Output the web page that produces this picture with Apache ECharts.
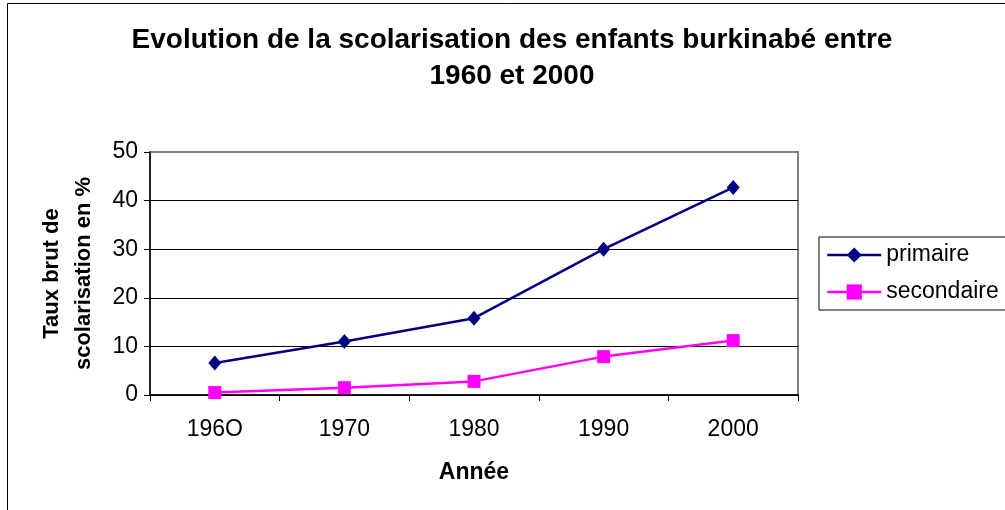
<!DOCTYPE html>
<html>
<head>
<meta charset="utf-8">
<script src="https://cdn.jsdelivr.net/npm/echarts@6/dist/echarts.min.js"></script>
<style>
  html, body { margin: 0; padding: 0; background: #fff; }
  #chart { width: 1005px; height: 510px; }
</style>
</head>
<body>
<div id="chart"></div>
<script>
// data
const years = ['196O', '1970', '1980', '1990', '2000']
const primaire = [6.6, 11.0, 15.8, 30.0, 42.7]
const secondaire = [0.5, 1.5, 2.8, 7.9, 11.2]
const yTicks = [0, 10, 20, 30, 40, 50]

const font = 'Arial, "Liberation Sans", sans-serif'

const chart = echarts.init(document.getElementById('chart'))

const option = {
  backgroundColor: '#fff',
  animation: false,
  textStyle: { fontFamily: font, color: '#000' },
  title: {
    text: 'Evolution de la scolarisation des enfants burkinabé entre\n1960 et 2000',
    left: 512,
    textAlign: 'center',
    top: 22,
    padding: 0,
    textStyle: {
      fontFamily: font,
      fontSize: 28,
      fontWeight: 'bold',
      color: '#000',
      lineHeight: 36
    }
  },
  graphic: [
    {
      type: 'rect',
      silent: true,
      shape: { x: 7.5, y: 3.5, width: 1100, height: 600 },
      style: { fill: 'none', stroke: '#000', lineWidth: 1 }
    }
  ],
  legend: {
    orient: 'vertical',
    left: 819,
    top: 237,
    padding: [6, 8, 6, 7],
    itemGap: 13,
    itemWidth: 54,
    itemHeight: 19,
    lineStyle: { width: 2.5 },
    borderColor: '#000',
    borderWidth: 1,
    textStyle: { fontFamily: font, fontSize: 23, color: '#000', lineHeight: 24 },
    data: ['primaire', 'secondaire']
  },
  grid: {
    left: 150,
    right: 207,
    top: 152,
    bottom: 115,
    show: true,
    borderColor: '#808080',
    borderWidth: 2,
    backgroundColor: '#fff'
  },
  xAxis: {
    type: 'category',
    data: years,
    boundaryGap: true,
    name: 'Année',
    nameLocation: 'middle',
    nameGap: 66,
    nameTextStyle: { fontFamily: font, fontSize: 23, fontWeight: 'bold', color: '#000' },
    axisLine: { lineStyle: { color: '#000', width: 1.5 } },
    axisTick: { show: true, length: 6, lineStyle: { color: '#000' } },
    axisLabel: { fontFamily: font, fontSize: 23, color: '#000', margin: 23 }
  },
  yAxis: {
    type: 'value',
    min: 0,
    max: 50,
    interval: 10,
    name: 'Taux brut de\nscolarisation en %',
    nameLocation: 'middle',
    nameGap: 50,
    nameRotate: 90,
    nameTextStyle: { fontFamily: font, fontSize: 22, fontWeight: 'bold', color: '#000', lineHeight: 32 },
    axisLine: { show: true, lineStyle: { color: '#000', width: 1.5 } },
    axisTick: { show: true, length: 6, lineStyle: { color: '#000' } },
    axisLabel: {
      fontFamily: font, fontSize: 23, color: '#000', margin: 12,
      formatter: (v) => yTicks.includes(v) ? String(v) : ''
    },
    splitLine: {
      show: true,
      lineStyle: { color: ['#000', '#000', '#000', '#000', '#000', '#808080'], width: 1 }
    }
  },
  series: [
    {
      name: 'primaire',
      type: 'line',
      data: primaire,
      symbol: 'diamond',
      symbolSize: [13, 15],
      lineStyle: { color: '#000080', width: 2.5 },
      itemStyle: { color: '#000080' }
    },
    {
      name: 'secondaire',
      type: 'line',
      data: secondaire,
      symbol: 'rect',
      symbolSize: 13,
      lineStyle: { color: '#ff00ff', width: 2.5 },
      itemStyle: { color: '#ff00ff' }
    }
  ]
}

chart.setOption(option)
</script>
</body>
</html>
